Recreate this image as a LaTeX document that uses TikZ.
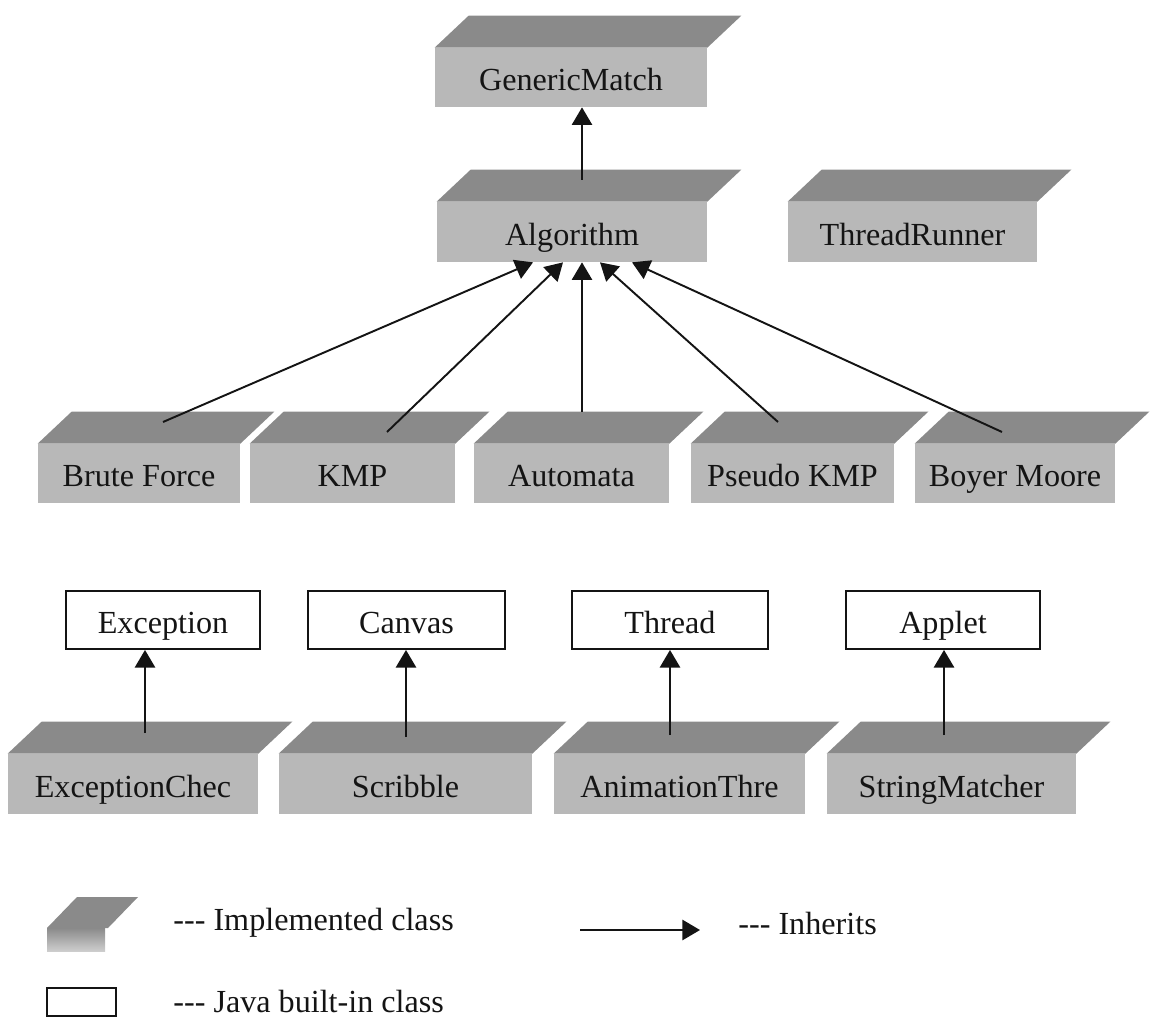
\documentclass[tikz,border=0pt]{standalone}
\usepackage{fontspec}
\setmainfont{Liberation Serif}
\usetikzlibrary{arrows.meta,calc}

\definecolor{frontgray}{RGB}{184,184,184}
\definecolor{topgray}{RGB}{138,138,138}
\definecolor{ink}{RGB}{20,20,20}

\tikzset{
  classfont/.style={font=\fontsize{18.3}{21}\selectfont, text=ink},
  % implemented class: front face as a node, top face drawn above it
  implbox/.style={classfont, fill=frontgray, draw=none, inner sep=0pt,
    text height=15.5pt, text depth=0.5pt},
  % Java built-in class
  javabox/.style={classfont, fill=white, draw=ink, line width=1.1pt, inner sep=0pt,
    text height=15.5pt, text depth=0.5pt},
  inh/.style={draw=ink, line width=1.1pt, -{Triangle[length=10pt,width=11.5pt]}},
  legendtext/.style={classfont, anchor=west, inner sep=0pt}
}

% box node from corner (x1,y1) to (x2,y2), given in picture units
\newcommand\boxnode[7]{%
  \pgfmathsetmacro\bw{(#5-#3)*0.2}%
  \pgfmathsetmacro\bh{(#6-#4)*0.2}%
  \node[#1, minimum width=\bw mm, minimum height=\bh mm]
    (#2) at ({(#3+#5)/2},{(#4+#6)/2}) {#7};}

% slanted top face above an implemented-class node
\newcommand\topface[1]{%
  \fill[topgray] (#1.north west) -- (#1.north east) -- ++(34,-32)
    -- ($(#1.north west)+(34,-32)$) -- cycle;}

\begin{document}
\begin{tikzpicture}[x=0.2mm,y=-0.2mm]
\useasboundingbox (0,0) rectangle (1155,1018);

% ---- implemented classes ----
\boxnode{implbox}{gm}{435}{48}{707}{107}{GenericMatch}
\boxnode{implbox}{alg}{437}{202}{707}{262}{Algorithm}
\boxnode{implbox}{tr}{788}{202}{1037}{262}{ThreadRunner}

\boxnode{implbox}{bf}{38}{444}{240}{503}{Brute Force}
\boxnode{implbox}{kmp}{250}{444}{455}{503}{KMP}
\boxnode{implbox}{aut}{474}{444}{669}{503}{Automata}
\boxnode{implbox}{pk}{691}{444}{894}{503}{Pseudo KMP}
\boxnode{implbox}{bm}{915}{444}{1115}{503}{Boyer Moore}

\boxnode{implbox}{ec}{8}{754}{258}{814}{ExceptionChec}
\boxnode{implbox}{scr}{279}{754}{532}{814}{Scribble}
\boxnode{implbox}{anim}{554}{754}{805}{814}{AnimationThre}
\boxnode{implbox}{sm}{827}{754}{1076}{814}{StringMatcher}

\foreach \n in {gm,alg,tr,bf,kmp,aut,pk,bm,ec,scr,anim,sm} {\topface{\n}}

% ---- Java built-in classes ----
\boxnode{javabox}{exc}{66}{591}{260}{649}{Exception}
\boxnode{javabox}{can}{308}{591}{505}{649}{Canvas}
\boxnode{javabox}{thr}{572}{591}{768}{649}{Thread}
\boxnode{javabox}{app}{846}{591}{1040}{649}{Applet}

% ---- inheritance arrows ----
\coordinate (alg-s) at (582,180);
\draw[inh] (alg-s) -- (alg-s |- gm.south);

\coordinate (bf-s)  at (163,422);
\coordinate (kmp-s) at (387,432);
\coordinate (aut-s) at (582,412);
\coordinate (pk-s)  at (778,422);
\coordinate (bm-s)  at (1002,432);
\draw[inh] (bf-s)  -- ($(alg.south)+(-39,0)$);
\draw[inh] (kmp-s) -- ($(alg.south)+(-9,0)$);
\draw[inh] (aut-s) -- ($(alg.south)+(10,0)$);
\draw[inh] (pk-s)  -- ($(alg.south)+(28,0)$);
\draw[inh] (bm-s)  -- ($(alg.south)+(60,0)$);

\coordinate (ec-s)   at (145,733);
\coordinate (scr-s)  at (406,737);
\coordinate (anim-s) at (670,735);
\coordinate (sm-s)   at (944,735);
\draw[inh] (ec-s)   -- (ec-s |- exc.south);
\draw[inh] (scr-s)  -- (scr-s |- can.south);
\draw[inh] (anim-s) -- (anim-s |- thr.south);
\draw[inh] (sm-s)   -- (sm-s |- app.south);

% ---- legend ----
\shade[top color=topgray, bottom color=frontgray!70] (47,928) rectangle (105,951);
\fill[topgray] (47,928) -- (108,928) -- (138,897) -- (77,897) -- cycle;
\node[legendtext] (limpl) at (173,923) {-{}-{}- Implemented class};

\coordinate (la1) at (580,930);
\coordinate (la2) at (700,930);
\draw[inh] (la1) -- (la2);
\node[legendtext] (linh) at (738,923) {-{}-{}- Inherits};

\boxnode{javabox}{ljava}{47}{988}{116}{1016}{}
\node[legendtext] (ljtext) at (173,1001) {-{}-{}- Java built-in class};
\end{tikzpicture}
\end{document}
